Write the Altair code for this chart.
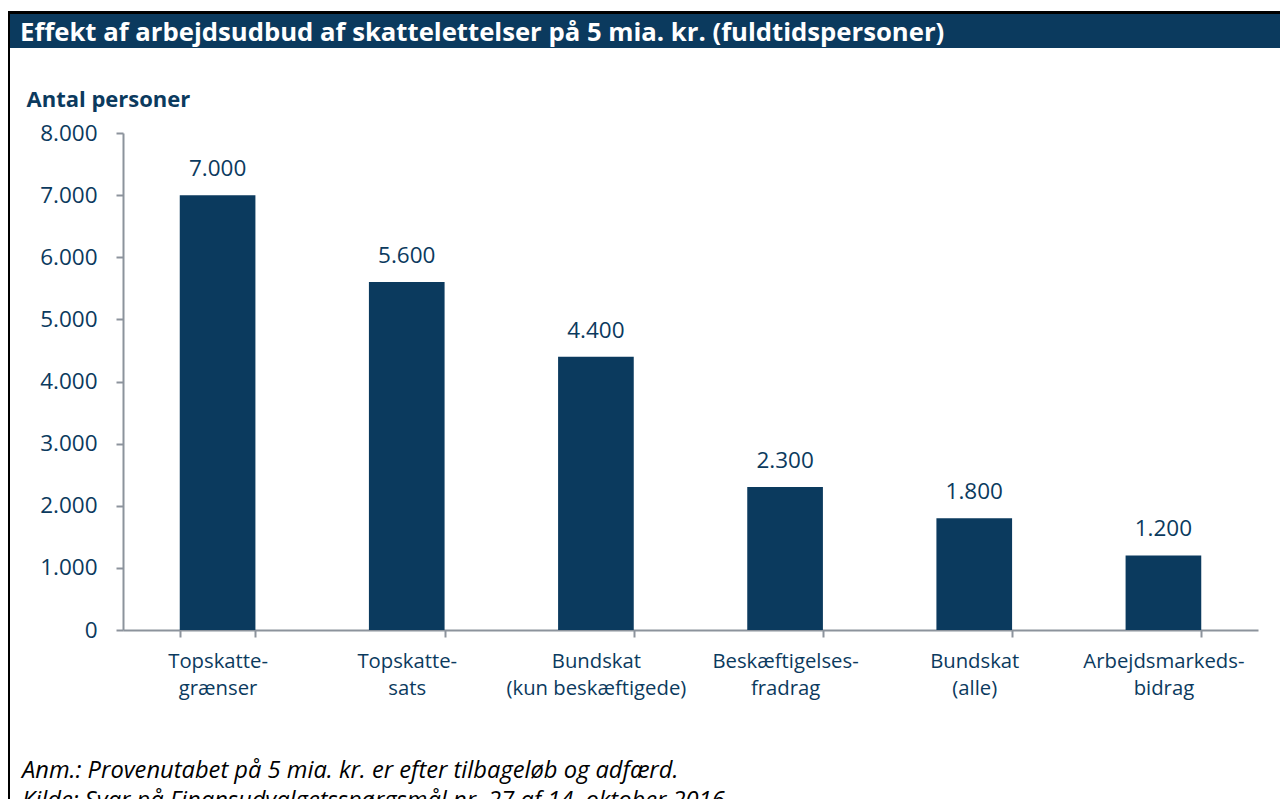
import altair as alt
import pandas as pd

categories = [
    "Topskatte-|grænser",
    "Topskatte-|sats",
    "Bundskat|(kun beskæftigede)",
    "Beskæftigelses-|fradrag",
    "Bundskat|(alle)",
    "Arbejdsmarkeds-|bidrag",
]
values = [7000, 5600, 4400, 2300, 1800, 1200]
y_ticks = [0, 1000, 2000, 3000, 4000, 5000, 6000, 7000, 8000]

title_text = "Effekt af arbejdsudbud af skattelettelser på 5 mia. kr. (fuldtidspersoner)"
y_title = "Antal personer"
note_1 = "Anm.: Provenutabet på 5 mia. kr. er efter tilbageløb og adfærd."
note_2 = "Kilde: Svar på Finansudvalgetsspørgsmål nr. 27 af 14. oktober 2016."

NAVY = "#0B3A5E"
GREY = "#8C939C"
FONT = "Open Sans"

df = pd.DataFrame({"cat": categories, "val": values})
one = pd.DataFrame({"k": [0]})

PW, PH = 1135, 497

bars = alt.Chart(df).mark_bar(color=NAVY).encode(
    x=alt.X(
        "cat:N",
        sort=categories,
        title=None,
        scale=alt.Scale(paddingInner=0.6, paddingOuter=0.3),
        axis=alt.Axis(
            labelExpr="split(datum.label, '|')",
            labelAngle=0,
            labelFont=FONT,
            labelFontSize=20.3,
            labelColor=NAVY,
            labelLineHeight=27,
            labelPadding=14,
            tickBand="extent",
            tickSize=7,
            tickWidth=2,
            tickColor=GREY,
            domainColor=GREY,
            domainWidth=2,
        ),
    ),
    y=alt.Y(
        "val:Q",
        scale=alt.Scale(domain=[0, 8000], nice=False),
        axis=alt.Axis(
            values=y_ticks,
            labelExpr="replace(format(datum.value, ','), ',', '.')",
            labelFont=FONT,
            labelFontSize=22.5,
            labelColor=NAVY,
            labelPadding=19,
            tickSize=7,
            tickWidth=2,
            tickColor=GREY,
            domainColor=GREY,
            domainWidth=2,
            grid=False,
            title=y_title,
            titleAngle=0,
            titleAlign="left",
            titleBaseline="alphabetic",
            titleX=-97,
            titleY=-27,
            titleFont=FONT,
            titleFontSize=22,
            titleFontWeight="bold",
            titleColor=NAVY,
        ),
    ),
)

labels = alt.Chart(df).transform_calculate(
    lbl="replace(format(datum.val, ','), ',', '.')"
).mark_text(
    font=FONT, fontSize=22.5, color=NAVY, baseline="alphabetic", dy=-19
).encode(
    x=alt.X("cat:N", sort=categories),
    y="val:Q",
    text="lbl:N",
)

header = alt.Chart(one).mark_rect(color=NAVY).encode(
    x=alt.value(-114), x2=alt.value(1165), y=alt.value(-119), y2=alt.value(-85)
)
top_border = alt.Chart(one).mark_rect(color="black").encode(
    x=alt.value(-116), x2=alt.value(1165), y=alt.value(-122), y2=alt.value(-119)
)
left_border = alt.Chart(one).mark_rect(color="black").encode(
    x=alt.value(-116), x2=alt.value(-113), y=alt.value(-122), y2=alt.value(700)
)
title = alt.Chart(one).mark_text(
    font=FONT, fontSize=25.7, fontWeight="bold", color="white", align="left", baseline="alphabetic"
).encode(x=alt.value(-103), y=alt.value(-92), text=alt.value(title_text))

n1 = alt.Chart(one).mark_text(
    font=FONT, fontSize=23.7, fontStyle="italic", color="black", align="left", baseline="alphabetic"
).encode(x=alt.value(-101), y=alt.value(645), text=alt.value(note_1))
n2 = alt.Chart(one).mark_text(
    font=FONT, fontSize=23.7, fontStyle="italic", color="black", align="left", baseline="alphabetic"
).encode(x=alt.value(-101), y=alt.value(675), text=alt.value(note_2))

chart = alt.layer(header, top_border, left_border, title, bars, labels, n1, n2).properties(
    width=PW,
    height=PH,
    padding={"left": 115, "top": 125, "right": 22, "bottom": 169},
    autosize=alt.AutoSizeParams(type="none"),
    background="white",
).configure_view(stroke=None)

chart.save("out.html", embed_options={"renderer": "svg", "actions": False})
